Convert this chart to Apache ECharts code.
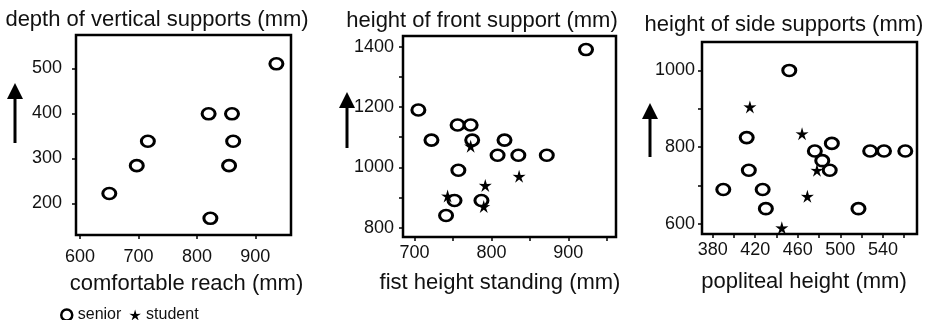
<!DOCTYPE html>
<html>
<head>
<meta charset="utf-8">
<script src="https://cdn.jsdelivr.net/npm/echarts@6/dist/echarts.min.js"></script>
<style>
  html, body { margin: 0; padding: 0; background: #fff; }
  #chart { width: 934px; height: 320px; }
</style>
</head>
<body>
<div id="chart"></div>
<script>
// panel 1: comfortable reach vs depth of vertical supports (seniors only)
const reachSenior = [650, 697, 716, 820, 860, 862, 855, 823, 936];
const depthSenior = [222, 284, 338, 399, 399, 338, 284, 167, 510];

// panel 2: fist height standing vs height of front support
const fistSenior = [705, 722, 756, 773, 775, 817, 808, 835, 872, 757, 752, 787, 741, 923];
const frontSenior = [1190, 1090, 1140, 1140, 1090, 1090, 1040, 1040, 1040, 990, 890, 890, 840, 1390];
const fistStudent = [773, 836, 792, 743, 790];
const frontStudent = [1070, 970, 940, 905, 870];

// panel 3: popliteal height vs height of side supports
const poplSenior = [390, 412, 414, 427, 430, 452, 476, 483, 492, 490, 517, 528, 541, 561];
const sideSenior = [690, 825, 740, 690, 640, 1000, 790, 765, 810, 740, 640, 790, 790, 790];
const poplStudent = [415, 464, 478, 469, 445];
const sideStudent = [905, 835, 740, 672, 590];

// tick marks and tick labels
const reachTicks = [600, 700, 800, 900];
const depthTicks = [200, 300, 400, 500];
const fistTicks = [700, 750, 800, 850, 900, 950];
const fistLabels = [700, 800, 900];
const frontTicks = [800, 900, 1000, 1100, 1200, 1300, 1400];
const frontLabels = [800, 1000, 1200, 1400];
const poplTicks = [380, 400, 420, 440, 460, 480, 500, 520, 540, 560];
const poplLabels = [380, 420, 460, 500, 540];
const sideTicks = [600, 700, 800, 900, 1000];
const sideLabels = [600, 800, 1000];

const FONT = "'Liberation Sans', Arial, sans-serif";
const STAR = "path://M10 0 L12.2 7.2 L19.51 6.91 L13.4 11.2 L15.88 18.09 L10 13.6 L4.12 18.09 L6.6 11.2 L0.49 6.91 L7.8 7.2 Z";

const zip = (xs, ys) => xs.map((x, i) => [x, ys[i]]);
const plain = (v) => String(v);

function xAx(idx, min, max, ticks, labels, name, gap, margin, pad) {
  return {
    type: "value", gridIndex: idx, min, max,
    name, nameLocation: "middle", nameGap: gap,
    nameTextStyle: { fontFamily: FONT, fontSize: 22, color: "#111", verticalAlign: "middle", padding: pad },
    axisLine: { show: false },
    axisTick: { show: true, length: 4, customValues: ticks, lineStyle: { color: "#000", width: 1.5 } },
    axisLabel: { customValues: labels, formatter: plain, margin, fontFamily: FONT, fontSize: 18, color: "#111" },
    splitLine: { show: false },
  };
}

function yAx(idx, min, max, ticks, labels, margin) {
  return {
    type: "value", gridIndex: idx, min, max,
    axisLine: { show: false },
    axisTick: { show: true, length: 4, customValues: ticks, lineStyle: { color: "#000", width: 1.5 } },
    axisLabel: { customValues: labels, formatter: plain, margin, fontFamily: FONT, fontSize: 18, color: "#111" },
    splitLine: { show: false },
  };
}

function senior(idx, data) {
  return {
    name: "senior", type: "scatter", xAxisIndex: idx, yAxisIndex: idx,
    data, symbol: "circle", symbolSize: [13, 11],
    itemStyle: { color: "#fff", borderColor: "#000", borderWidth: 2.8, opacity: 1 },
    z: 3,
  };
}

function student(idx, data) {
  return {
    name: "student", type: "scatter", xAxisIndex: idx, yAxisIndex: idx,
    data, symbol: STAR, symbolSize: 13,
    itemStyle: { color: "#000", opacity: 1 },
    z: 4,
  };
}

function arrow(x, tip, bottom) {
  return {
    type: "group",
    children: [
      { type: "line", shape: { x1: x, y1: tip + 12, x2: x, y2: bottom }, style: { stroke: "#000", lineWidth: 3 } },
      { type: "polygon", shape: { points: [[x, tip], [x - 8, tip + 16], [x + 8, tip + 16]] }, style: { fill: "#000" } },
    ],
  };
}

function heading(x, y, text) {
  return {
    type: "text", x, y,
    style: { text, font: "22px " + FONT, fill: "#111", textAlign: "center", textVerticalAlign: "middle" },
  };
}

const chart = echarts.init(document.getElementById("chart"), null, { renderer: "canvas" });
chart.setOption({
  animation: false,
  grid: [
    { left: 76, top: 35, width: 215, height: 200, show: true, borderColor: "#000", borderWidth: 2.5, backgroundColor: "transparent" },
    { left: 403, top: 36, width: 213, height: 201, show: true, borderColor: "#000", borderWidth: 2.5, backgroundColor: "transparent" },
    { left: 702, top: 42, width: 215, height: 192, show: true, borderColor: "#000", borderWidth: 2.5, backgroundColor: "transparent" },
  ],
  xAxis: [
    xAx(0, 593, 961, reachTicks, reachTicks, "comfortable reach (mm)", 49, 13, [0, 0, 0, 6]),
    xAx(1, 685, 962, fistTicks, fistLabels, "fist height standing (mm)", 46, 7, [0, 19, 0, 0]),
    xAx(2, 370, 572, poplTicks, poplLabels, "popliteal height (mm)", 48, 7, [0, 11, 0, 0]),
  ],
  yAxis: [
    yAx(0, 130, 574, depthTicks, depthTicks, 14),
    yAx(1, 769, 1435, frontTicks, frontLabels, 9),
    yAx(2, 574, 1074, sideTicks, sideLabels, 7),
  ],
  legend: {
    left: 55, top: 302, itemWidth: 12, itemHeight: 11, itemGap: 8,
    textStyle: { fontFamily: FONT, fontSize: 16, color: "#111" },
    data: [
      { name: "senior", icon: "circle", itemStyle: { color: "#fff", borderColor: "#000", borderWidth: 2.5 } },
      { name: "student", icon: STAR, itemStyle: { color: "#000" } },
    ],
  },
  graphic: [
    heading(157, 20, "depth of vertical supports (mm)"),
    heading(482, 21, "height of front support (mm)"),
    heading(784, 25, "height of side supports (mm)"),
    arrow(15, 83, 143),
    arrow(347, 92, 148),
    arrow(650, 103, 157),
  ],
  series: [
    senior(0, zip(reachSenior, depthSenior)),
    senior(1, zip(fistSenior, frontSenior)),
    student(1, zip(fistStudent, frontStudent)),
    senior(2, zip(poplSenior, sideSenior)),
    student(2, zip(poplStudent, sideStudent)),
  ],
});
</script>
</body>
</html>
